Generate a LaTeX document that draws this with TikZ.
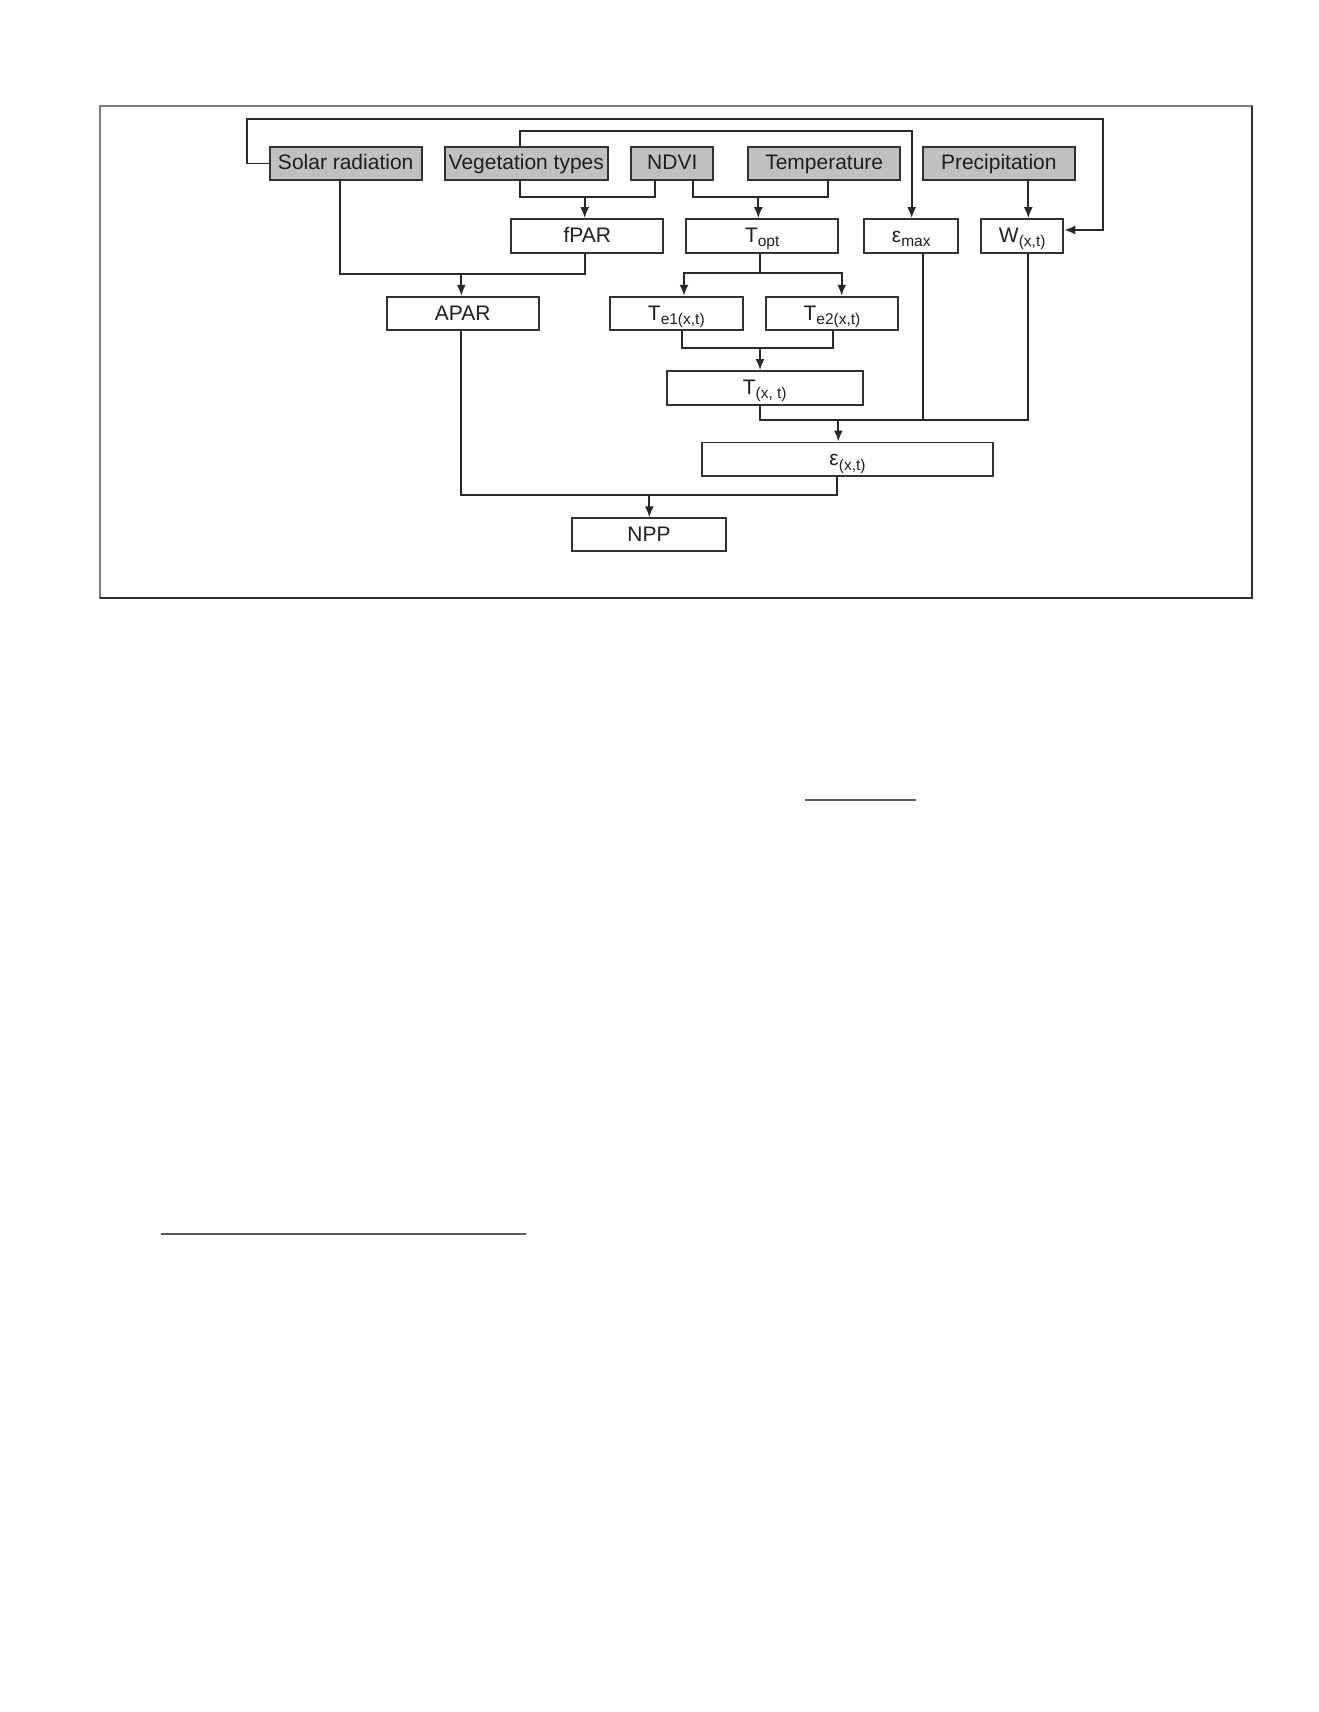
\documentclass[tikz,border=0pt]{standalone}
\usepackage{fontspec}
\setmainfont{Liberation Sans}
\usetikzlibrary{arrows.meta}
\definecolor{boxfill}{RGB}{192,192,192}
\definecolor{boxline}{RGB}{50,50,50}
\definecolor{lineclr}{RGB}{40,40,40}
\definecolor{framegray}{RGB}{128,124,120}
\definecolor{framedark}{RGB}{50,46,40}
\definecolor{strayclr}{RGB}{95,90,85}
\newcommand\subx[1]{\raisebox{-0.4ex}{\fontsize{15.5}{16}\selectfont #1}}
\begin{document}
\begin{tikzpicture}[x=1pt,y=-1pt,
  box/.style={draw=boxline, line width=1.9pt, inner sep=0pt, minimum height=33.6pt,
    text height=17pt, text depth=4pt, text=black!88, font=\fontsize{21}{24}\selectfont},
  inbox/.style={box, fill=boxfill},
  conn/.style={draw=lineclr, line width=1.8pt},
  arr/.style={conn, -{Latex[length=11pt,width=9pt]}}]
\useasboundingbox[fill=white] (0,0) rectangle (1318,1712);
% frame
\draw[framegray, line width=2.2pt] (100,106) rectangle (1252,598);
\draw[framedark, line width=2.2pt] (100,598) -- (1252,598) -- (1252,106);
% stray rules of the page
\draw[strayclr, line width=1.8pt] (805,799.7) -- (916,799.7);
\draw[strayclr, line width=1.8pt] (161.3,1234.3) -- (525.7,1234.3);
% input boxes
\node[inbox, minimum width=152pt]   (solar)  at (345.7,163.5) {Solar radiation};
\node[inbox, minimum width=162.7pt] (veg)    at (526.3,163.5) {Vegetation types};
\node[inbox, minimum width=82pt]    (ndvi)   at (672.3,163.5) {NDVI};
\node[inbox, minimum width=151.7pt] (temp)   at (824.2,163.5) {Temperature};
\node[inbox, minimum width=151.7pt] (precip) at (998.8,163.5) {Precipitation};
% second row
\node[box, minimum width=152pt]   (fpar) at (587.3,235.8) {fPAR};
\node[box, minimum width=152.3pt] (topt) at (762.2,235.8) {T\subx{opt}};
\node[box, minimum width=94.3pt]  (emax) at (911.2,235.8) {ε\subx{max}};
\node[box, minimum width=82.3pt]  (W)    at (1022.2,235.8) {W\subx{(x,t)}};
% third row
\node[box, minimum width=152pt]   (apar) at (462.7,313.5) {APAR};
\node[box, minimum width=132.7pt] (te1)  at (676.3,313.5) {T\subx{e1(x,t)}};
\node[box, minimum width=132.6pt] (te2)  at (832,313.5) {T\subx{e2(x,t)}};
% lower boxes
\node[box, minimum width=196pt]   (txt)  at (764.7,387.8) {T\subx{(x, t)}};
\node[box, minimum width=291.6pt] (eps)  at (847.5,459.3) {ε\subx{(x,t)}};
\node[box, minimum width=154pt, minimum height=32.4pt] (npp) at (649,534.5) {NPP};
% x positions and junctions
\coordinate (lpA) at (246.7,119.3);
\coordinate (lpB) at (1103.3,230);
\coordinate (xv)  at (520,0);
\coordinate (e1)  at (911.7,130.7);
\coordinate (xn1) at (655.3,0);
\coordinate (j1)  at (584.7,197.3);
\coordinate (xn2) at (693.3,0);
\coordinate (xt)  at (828.3,0);
\coordinate (j2)  at (758.3,197.3);
\coordinate (xw)  at (1028.3,0);
\coordinate (xs)  at (340,0);
\coordinate (j3)  at (461.3,274.3);
\coordinate (j4)  at (760,273.3);
\coordinate (a1)  at (684,273.3);
\coordinate (a2)  at (841.7,273.3);
\coordinate (xe1) at (681.7,0);
\coordinate (xe2) at (833.3,0);
\coordinate (j5)  at (760,348.3);
\coordinate (xtx) at (760,0);
\coordinate (xem) at (923.3,0);
\coordinate (j6)  at (838.3,420.3);
\coordinate (xa)  at (460.7,0);
\coordinate (xe)  at (837.3,0);
\coordinate (j7)  at (649.3,495.3);
% solar radiation loop to W
\draw[arr] (solar.west) -| (lpA) -| (lpB) -- (lpB -| W.east);
% vegetation types to emax
\draw[arr] (veg.north -| xv) |- (e1) -- (e1 |- emax.north);
% veg + NDVI -> fPAR
\draw[conn] (veg.south -| xv) |- (xn1 |- j1) -- (xn1 |- ndvi.south);
\draw[arr] (j1) -- (j1 |- fpar.north);
% NDVI + temperature -> Topt
\draw[conn] (ndvi.south -| xn2) |- (xt |- j2) -- (xt |- temp.south);
\draw[arr] (j2) -- (j2 |- topt.north);
% precipitation -> W
\draw[arr] (precip.south -| xw) -- (W.north -| xw);
% solar + fPAR -> APAR
\draw[conn] (solar.south -| xs) |- (j1 |- j3) -- (j1 |- fpar.south);
\draw[arr] (j3) -- (j3 |- apar.north);
% Topt -> Te1, Te2
\draw[conn] (topt.south -| j4) -- (j4);
\draw[arr] (j4) -- (a1) -- (a1 |- te1.north);
\draw[arr] (j4) -- (a2) -- (a2 |- te2.north);
% Te1 + Te2 -> T(x,t)
\draw[conn] (te1.south -| xe1) |- (xe2 |- j5) -- (xe2 |- te2.south);
\draw[arr] (j5) -- (j5 |- txt.north);
% T(x,t) + emax + W -> eps
\draw[conn] (txt.south -| xtx) |- (xw |- j6) -- (W.south -| xw);
\draw[conn] (emax.south -| xem) -- (xem |- j6);
\draw[arr] (j6) -- (j6 |- eps.north);
% APAR + eps -> NPP
\draw[conn] (apar.south -| xa) |- (xe |- j7) -- (eps.south -| xe);
\draw[arr] (j7) -- (j7 |- npp.north);
\end{tikzpicture}
\end{document}
